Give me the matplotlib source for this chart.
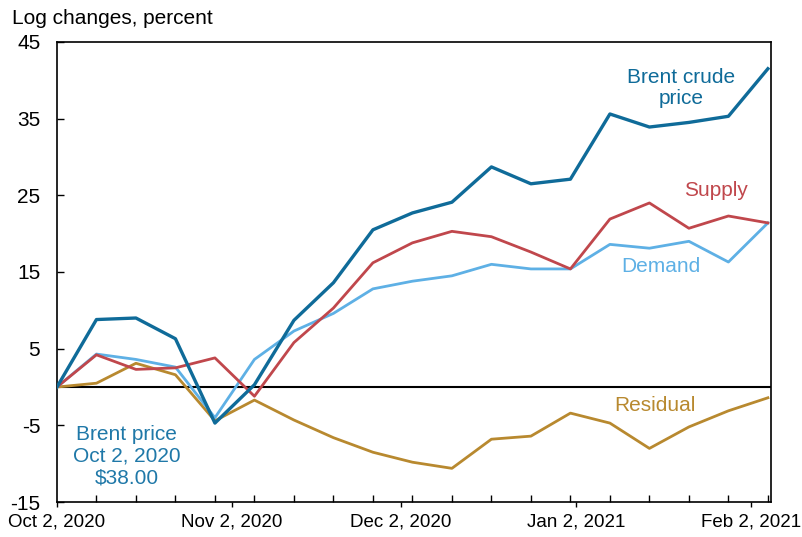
import numpy as np
import pandas as pd
import matplotlib
matplotlib.use("Agg")
import matplotlib.pyplot as plt
import matplotlib.dates as mdates

plt.rcParams['font.family'] = ['Liberation Sans', 'DejaVu Sans']
plt.rcParams['axes.unicode_minus'] = False

# weekly observations, cumulative log changes (percent) since Oct 2, 2020
dates = pd.date_range("2020-10-02", "2021-02-05", freq="7D")
brent = [0, 8.8, 9.0, 6.3, -4.7, 0.3, 8.7, 13.6, 20.5, 22.7, 24.1, 28.7,
         26.5, 27.1, 35.6, 33.9, 34.5, 35.3, 41.5]
supply = [0, 4.2, 2.3, 2.5, 3.8, -1.2, 5.8, 10.3, 16.2, 18.8, 20.3, 19.6,
          17.6, 15.4, 21.9, 24.0, 20.7, 22.3, 21.4]
demand = [0, 4.3, 3.6, 2.6, -4.0, 3.6, 7.3, 9.6, 12.8, 13.8, 14.5, 16.0,
          15.4, 15.4, 18.6, 18.1, 19.0, 16.3, 21.4]
residual = [0, 0.5, 3.1, 1.6, -4.4, -1.7, -4.3, -6.6, -8.5, -9.8, -10.6, -6.8,
            -6.4, -3.4, -4.7, -8.0, -5.2, -3.1, -1.4]

major_dates = pd.to_datetime(["2020-10-02", "2020-11-02", "2020-12-02",
                              "2021-01-02", "2021-02-02"])
major_labels = ["Oct 2, 2020", "Nov 2, 2020", "Dec 2, 2020",
                "Jan 2, 2021", "Feb 2, 2021"]
y_ticks = [-15, -5, 5, 15, 25, 35, 45]

c_brent = "#0f6b99"
c_supply = "#c0474c"
c_demand = "#5eb0e5"
c_resid = "#b8892f"

fig = plt.figure(figsize=(8.02, 5.37), dpi=100)
ax = fig.add_axes([0.071, 0.065, 0.890, 0.857])

ax.axhline(0, color="black", linewidth=1.5, zorder=1)
ax.plot(dates, residual, color=c_resid, linewidth=2.0, zorder=2)
ax.plot(dates, demand, color=c_demand, linewidth=2.0, zorder=3)
ax.plot(dates, supply, color=c_supply, linewidth=2.0, zorder=4)
ax.plot(dates, brent, color=c_brent, linewidth=2.4, zorder=5)

ax.set_ylim(-15, 45)
ax.set_yticks(y_ticks)
ax.set_xlim(dates[0], dates[-1] + pd.Timedelta(hours=12))

ax.set_xticks(mdates.date2num(major_dates))
ax.set_xticklabels(major_labels)
ax.set_xticks(mdates.date2num(dates), minor=True)

ax.tick_params(axis="y", direction="in", length=5, width=1, pad=12, labelsize=15)
ax.tick_params(axis="x", which="major", direction="out", length=3.5, width=1,
               pad=5, labelsize=13.5)
ax.tick_params(axis="x", which="minor", direction="in", length=5, width=1)
for s in ax.spines.values():
    s.set_linewidth(1.2)

fig.text(0.015, 0.965, "Log changes, percent", fontsize=15, va="center", ha="left")

ax.text(0.874, 0.9, "Brent crude\nprice", transform=ax.transAxes, color=c_brent,
        fontsize=15, ha="center", va="center", linespacing=1.15)
ax.text(0.924, 0.676, "Supply", transform=ax.transAxes, color=c_supply,
        fontsize=15, ha="center", va="center")
ax.text(0.846, 0.513, "Demand", transform=ax.transAxes, color=c_demand,
        fontsize=15, ha="center", va="center")
ax.text(0.838, 0.209, "Residual", transform=ax.transAxes, color=c_resid,
        fontsize=15, ha="center", va="center")
ax.text(0.098, 0.1, "Brent price\nOct 2, 2020\n$38.00", transform=ax.transAxes,
        color="#1f78a8", fontsize=15, ha="center", va="center", linespacing=1.2)

fig.savefig("out.png", dpi=100)
